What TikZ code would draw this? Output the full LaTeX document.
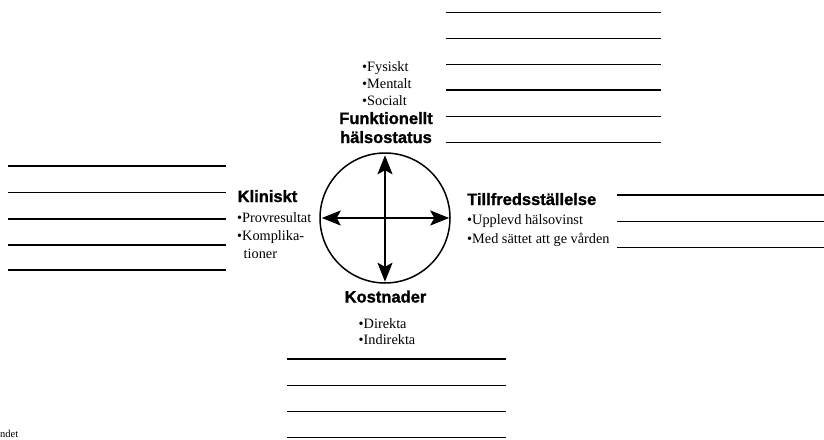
\documentclass[tikz,border=0pt]{standalone}
\usepackage{fontspec}
\setmainfont{Liberation Serif}
\newfontfamily\headfont[BoldFeatures={FakeBold=1.2}]{Liberation Sans}
\usetikzlibrary{arrows.meta,calc}
\tikzset{
  wline/.style={line width=1.5pt, black},
  head/.style={font=\headfont\bfseries\fontsize{16.5}{18}\selectfont, inner sep=0pt},
  item/.style={font=\fontsize{14.3}{17}\selectfont, inner sep=0pt, anchor=base west},
  arr/.style={line width=1.8pt, {Stealth[length=19pt,width=15pt,inset=4pt]}-{Stealth[length=19pt,width=15pt,inset=4pt]}},
}
\begin{document}
\begin{tikzpicture}[x=1pt,y=-1pt]
\useasboundingbox (0,0) rectangle (824,439);
% writing lines
\foreach \yy in {12.5,38.5,64.5,90,116.5,142.5} \draw[wline] (445.5,\yy) -- (661,\yy);
\foreach \yy in {166,192.5,219,245,270} \draw[wline] (8,\yy) -- (226,\yy);
\foreach \yy in {195,221.5,247.5} \draw[wline] (617,\yy) -- (824,\yy);
\foreach \yy in {359,385.5,411.5,437.5} \draw[wline] (287,\yy) -- (506,\yy);
% circle
\node[circle, draw, line width=1.5pt, minimum size=130pt, inner sep=0pt] (c) at (385,218) {};
\coordinate (ct) at ($(c.north)+(0,3)$);
\coordinate (cb) at ($(c.south)+(0,-2)$);
\coordinate (cl) at ($(c.west)+(2.5,0)$);
\coordinate (cr) at ($(c.east)+(-1.5,0)$);
\draw[arr] (ct) -- (cb);
\draw[arr] (cl) -- (cr);
% top
\node[item] (f1) at (362,71) {•Fysiskt};
\node[item] (f2) at (362,88) {•Mentalt};
\node[item] (f3) at (362,105) {•Socialt};
\node[head, anchor=base] (fh1) at (386,124) {Funktionellt};
\node[head, anchor=base] (fh2) at (386,143) {hälsostatus};
% left
\node[head, anchor=base west] (kh) at (237.5,202) {Kliniskt};
\node[item] (k1) at (237,222) {•Provresultat};
\node[item] (k2) at (237,240) {•Komplika-};
\node[item] (k3) at (243.5,258) {tioner};
% right
\node[head, anchor=base west] (th) at (467,205) {Tillfredsställelse};
\node[item] (t1) at (467,224) {•Upplevd hälsovinst};
\node[item] (t2) at (467,243) {•Med sättet att ge vården};
% bottom
\node[head, anchor=base] (kos) at (385.5,302.5) {Kostnader};
\node[item] (d1) at (358.5,328) {•Direkta};
\node[item] (d2) at (358.5,344) {•Indirekta};
% corner
\node[font=\fontsize{10.5}{12}\selectfont, inner sep=0pt, anchor=base west] (nd) at (0,437) {ndet};
\end{tikzpicture}
\end{document}
